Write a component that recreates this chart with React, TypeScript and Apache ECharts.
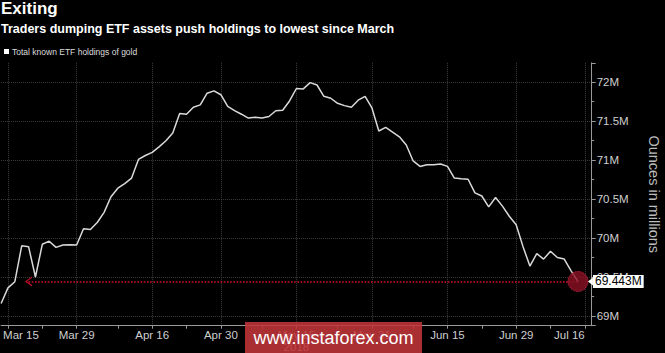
import React, { useEffect, useRef } from "react";
import * as echarts from "echarts";

const tradingDays = [
  "Mar 14", "Mar 15", "Mar 16", "Mar 19", "Mar 20", "Mar 21", "Mar 22", "Mar 23", "Mar 26", "Mar 27", "Mar 28", "Mar 29",
  "Apr 2", "Apr 3", "Apr 4", "Apr 5", "Apr 6", "Apr 9", "Apr 10", "Apr 11", "Apr 12", "Apr 13", "Apr 16", "Apr 17",
  "Apr 18", "Apr 19", "Apr 20", "Apr 23", "Apr 24", "Apr 25", "Apr 26", "Apr 27", "Apr 30",
  "May 1", "May 2", "May 3", "May 4", "May 7", "May 8", "May 9", "May 10", "May 11", "May 14", "May 15", "May 16",
  "May 17", "May 18", "May 21", "May 22", "May 23", "May 24", "May 25", "May 29", "May 30", "May 31",
  "Jun 1", "Jun 4", "Jun 5", "Jun 6", "Jun 7", "Jun 8", "Jun 11", "Jun 12", "Jun 13", "Jun 14", "Jun 15", "Jun 18",
  "Jun 19", "Jun 20", "Jun 21", "Jun 22", "Jun 25", "Jun 26", "Jun 27", "Jun 28", "Jun 29",
  "Jul 2", "Jul 3", "Jul 5", "Jul 6", "Jul 9", "Jul 10", "Jul 11", "Jul 12", "Jul 13", "Jul 16", "Jul 17",
];

// Total known ETF holdings of gold, millions of ounces (one value per trading day from Mar 14)
const holdings = [
  69.16, 69.36, 69.44, 69.9, 69.89, 69.5, 69.92, 69.96, 69.88, 69.91, 69.915, 69.91,
  70.12, 70.11, 70.2, 70.33, 70.53, 70.64, 70.7, 70.77, 71.01, 71.06, 71.1, 71.17,
  71.25, 71.35, 71.6, 71.59, 71.68, 71.71, 71.86, 71.89, 71.84,
  71.69, 71.635, 71.59, 71.54, 71.55, 71.54, 71.56, 71.635, 71.64, 71.76, 71.92, 71.915,
  71.995, 71.965, 71.82, 71.795, 71.73, 71.7, 71.68, 71.77, 71.82, 71.67,
  71.375, 71.42, 71.36, 71.3, 71.195, 70.99, 70.92, 70.94, 70.94, 70.95, 70.92, 70.77,
  70.76, 70.755, 70.58, 70.54, 70.4, 70.52, 70.41, 70.28, 70.17,
  69.89, 69.64, 69.8, 69.73, 69.83, 69.75, 69.73, 69.58, 69.443,
];

const labelDates = ["Mar 15", "Mar 29", "Apr 16", "Apr 30", "May 15", "May 31", "Jun 15", "Jun 29", "Jul 16"];
const tickDates = [
  "Mar 15", "Mar 22", "Mar 29", "Apr 9", "Apr 16", "Apr 23", "Apr 30", "May 8", "May 15", "May 23",
  "May 31", "Jun 8", "Jun 15", "Jun 22", "Jun 29", "Jul 9", "Jul 16",
];
const arrowStartDate = "Mar 20";
const seriesName = "Total known ETF holdings of gold";
const titleText = "Exiting";
const subtitleText = "Traders dumping ETF assets push holdings to lowest since March";
const yAxisName = "Ounces in millions";
const yearLabel = "2018";
const watermark = "www.instaforex.com";

const FONT = "Liberation Sans, Arial, sans-serif";

export default function App() {
  const ref = useRef<HTMLDivElement>(null);

  useEffect(() => {
    if (!ref.current) return;
    const chart = echarts.init(ref.current, undefined, { renderer: "svg" });
    const lastIdx = holdings.length - 1;
    const lastVal = holdings[lastIdx];
    const lastDate = tradingDays[lastIdx];
    const chevron = "path://M0,10 L5,0 L10,10 L8.6,10 L5,2.6 L1.4,10 Z";

    chart.setOption({
      animation: false,
      backgroundColor: "#000",
      textStyle: { fontFamily: FONT },
      title: [
        {
          text: titleText,
          left: 1,
          top: 0,
          padding: 0,
          textStyle: { color: "#fff", fontSize: 17, fontWeight: "bold", fontFamily: FONT },
        },
        {
          text: subtitleText,
          left: 1,
          top: 22,
          padding: 0,
          textStyle: { color: "#fff", fontSize: 12.5, fontWeight: "bold", fontFamily: FONT },
        },
      ],
      legend: {
        left: 4,
        top: 47,
        padding: 0,
        icon: "rect",
        itemWidth: 5,
        itemHeight: 5,
        textStyle: { color: "#ddd", fontSize: 8.5, fontFamily: FONT, padding: [0, 0, 0, -2] },
        data: [{ name: seriesName, itemStyle: { color: "#fff" } }],
      },
      grid: {
        left: 1.1,
        right: 73.3,
        top: 62.8,
        bottom: 27.3,
        containLabel: false,
        outerBoundsMode: "none",
      },
      xAxis: {
        type: "category",
        data: tradingDays,
        boundaryGap: false,
        axisLine: { show: true, lineStyle: { color: "#999", width: 1 } },
        axisTick: {
          show: true,
          length: 3,
          interval: (_i: number, v: string) => tickDates.includes(v),
          lineStyle: { color: "#999" },
        },
        splitLine: {
          show: true,
          interval: (_i: number, v: string) => labelDates.includes(v),
          lineStyle: { color: "#3d3d3d", type: "dotted", width: 1 },
        },
        axisLabel: {
          interval: (_i: number, v: string) => labelDates.includes(v),
          color: "#cfcfcf",
          fontSize: 11.5,
          fontFamily: FONT,
          margin: 4,
          lineHeight: 11.5,
          formatter: (v: string) => {
            if (v === labelDates[0]) return "{l|" + v + "}";
            if (v === labelDates[labelDates.length - 1]) return "{r|" + v + "}";
            if (v === "May 15") return v + "\n" + yearLabel;
            return v;
          },
          rich: {
            l: { padding: [0, 0, 0, 26], color: "#cfcfcf", fontSize: 11.5, fontFamily: FONT },
            r: { padding: [0, 31, 0, 0], color: "#cfcfcf", fontSize: 11.5, fontFamily: FONT },
          },
        },
      },
      yAxis: {
        type: "value",
        position: "right",
        min: 68.875,
        max: 72.25,
        splitNumber: 5,
        name: yAxisName,
        nameLocation: "middle",
        nameRotate: -90,
        nameGap: 55,
        nameTextStyle: { color: "#bdbdbd", fontSize: 14.5, fontFamily: FONT },
        axisLine: { show: true, lineStyle: { color: "#999", width: 1 } },
        axisTick: { show: true, length: 4, lineStyle: { color: "#999" } },
        minorTick: { show: true, splitNumber: 2, length: 2.5, lineStyle: { color: "#999" } },
        splitLine: {
          show: true,
          showMinLine: false,
          showMaxLine: false,
          lineStyle: { color: "#3d3d3d", type: "dotted", width: 1 },
        },
        axisLabel: {
          showMinLabel: false,
          showMaxLabel: false,
          color: "#cfcfcf",
          fontSize: 11.5,
          fontFamily: FONT,
          margin: 5,
          formatter: (v: number) => v + "M",
        },
      },
      series: [
        {
          name: seriesName,
          type: "line",
          data: holdings,
          showSymbol: false,
          symbol: "none",
          lineStyle: { color: "#d9d9d9", width: 1.5 },
          itemStyle: { color: "#d9d9d9" },
          markLine: {
            silent: true,
            symbol: [chevron, "none"],
            symbolSize: [10, 7],
            lineStyle: { color: "#d3102c", type: "dotted", width: 1.6 },
            label: {
              show: true,
              position: "end",
              distance: 15,
              formatter: () => lastVal + "M",
              color: "#000",
              backgroundColor: "#fff",
              padding: [1, 2, 0, 2],
              fontSize: 12,
              fontFamily: FONT,
            },
            data: [[{ coord: [arrowStartDate, lastVal] }, { coord: [lastDate, lastVal] }]],
          },
          markPoint: {
            silent: true,
            label: { show: false },
            data: [
              {
                coord: [lastDate, lastVal],
                symbol: "circle",
                symbolSize: 20,
                itemStyle: {
                  color: "rgba(140,18,38,0.8)",
                  borderColor: "#e0284a",
                  borderWidth: 1,
                  borderType: "dotted",
                },
              },
              {
                coord: [lastDate, lastVal],
                symbol: "triangle",
                symbolSize: [8, 5],
                symbolRotate: 90,
                symbolOffset: [12.5, 0],
                itemStyle: { color: "#fff" },
              },
            ],
          },
        },
      ],
      graphic: [
        {
          type: "group",
          z: 100,
          children: [
            {
              type: "rect",
              shape: { x: 245, y: 322, width: 177, height: 31 },
              style: { fill: "rgba(192,54,58,0.88)" },
              z: 100,
            },
            {
              type: "text",
              x: 333.5,
              y: 338,
              z: 101,
              style: {
                text: watermark,
                fill: "#fff",
                fontSize: 18,
                fontFamily: FONT,
                align: "center",
                verticalAlign: "middle",
              },
            },
          ],
        },
      ],
    });

    return () => chart.dispose();
  }, []);

  return (
    <div
      ref={ref}
      style={{ position: "fixed", left: 0, top: 0, width: 665, height: 353 }}
    />
  );
}
